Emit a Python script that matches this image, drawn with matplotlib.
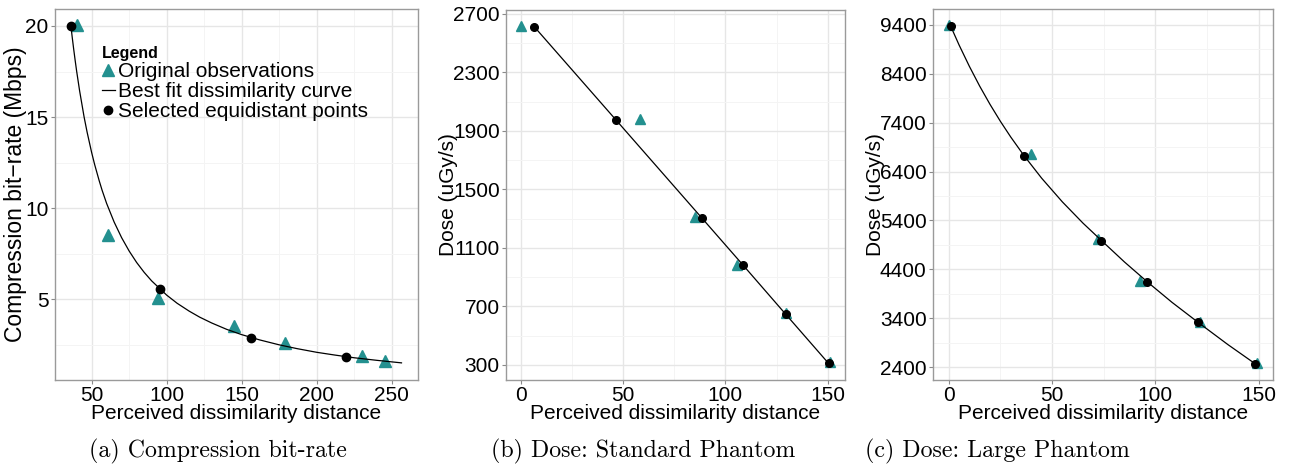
import numpy as np
import matplotlib.pyplot as plt
from matplotlib.ticker import FixedLocator
from matplotlib.lines import Line2D

plt.rcParams['font.family'] = ['Liberation Sans', 'DejaVu Sans']

TEAL = '#23908f'

# (a) compression bit-rate
a_obs_x = [40, 61, 94, 145, 179, 230, 245.5]
a_obs_y = [20.05, 8.55, 5.05, 3.55, 2.6, 1.9, 1.6]
a_sel_x = [36.2, 95.7, 156.4, 219.5]
a_sel_y = [20.0, 5.59, 2.9, 1.85]
a_fit_x = [36.2, 37, 38, 39, 40, 42, 45, 47, 50, 52, 55, 57, 60, 65, 70, 75, 80, 85, 90,
           100, 107, 115, 122, 130, 140, 150, 162, 175, 187, 200, 212, 225, 240, 256.5]
a_fit_y = [20.0, 19.43, 18.76, 18.13, 17.53, 16.44, 15.0, 14.17, 13.06, 12.40, 11.52, 10.98,
           10.26, 9.24, 8.38, 7.65, 7.02, 6.48, 6.01, 5.23, 4.78, 4.35, 4.02, 3.70, 3.35,
           3.06, 2.77, 2.50, 2.29, 2.09, 1.94, 1.79, 1.65, 1.51]
a_xticks = [50, 100, 150, 200, 250]
a_yticks = [5, 10, 15, 20]

# (b) dose, standard phantom
b_obs_x = [0, 58.4, 85.1, 105.5, 129.6, 151.2]
b_obs_y = [2620, 1982, 1310, 984, 654, 317]
b_sel_x = [6.5, 46.5, 88.6, 108.8, 129.6, 150.5]
b_sel_y = [2613, 1975, 1303, 980, 645, 310]
b_fit_x = [6.5, 46.5, 88.6, 108.8, 129.6, 150.5]
b_fit_y = [2613, 1975, 1303, 980, 645, 310]
b_xticks = [0, 50, 100, 150]
b_yticks = [300, 700, 1100, 1500, 1900, 2300, 2700]

# (c) dose, large phantom
c_obs_x = [0, 40, 72.2, 92.4, 121.8, 149.2]
c_obs_y = [9400, 6762, 5017, 4165, 3333, 2494]
c_sel_x = [1, 36.4, 73.9, 96.1, 120.6, 148.4]
c_sel_y = [9366, 6727, 4990, 4145, 3320, 2468]
c_fit_x = [1, 5, 10, 15, 20, 25, 30, 36.4, 45, 55, 65, 73.9, 85, 96.1, 108, 120.6, 135, 148.4]
c_fit_y = [9366, 8987, 8549, 8144, 7771, 7426, 7106, 6727, 6262, 5779, 5344, 4990,
           4553, 4145, 3728, 3320, 2866, 2468]
c_xticks = [0, 50, 100, 150]
c_yticks = [2400, 3400, 4400, 5400, 6400, 7400, 8400, 9400]

W, H = 1289, 468
fig = plt.figure(figsize=(W / 100, H / 100), dpi=100)


def make_axes(left, right, top, bottom):
    return fig.add_axes([left / W, 1 - bottom / H, (right - left) / W, (bottom - top) / H])


def halves(ticks):
    step = ticks[1] - ticks[0]
    return [t - step / 2 for t in ticks] + [ticks[-1] + step / 2]


def style(ax, xlim, ylim, xticks, yticks):
    ax.set_xlim(*xlim)
    ax.set_ylim(*ylim)
    ax.xaxis.set_major_locator(FixedLocator(xticks))
    ax.xaxis.set_minor_locator(FixedLocator(halves(xticks)))
    ax.yaxis.set_major_locator(FixedLocator(yticks))
    ax.yaxis.set_minor_locator(FixedLocator(halves(yticks)))
    ax.grid(which='major', color='#e6e6e6', lw=1.0)
    ax.grid(which='minor', color='#f4f4f4', lw=0.7)
    ax.set_axisbelow(True)
    for s in ax.spines.values():
        s.set_color('#9a9a9a')
        s.set_linewidth(1.0)
    ax.tick_params(which='major', length=3, width=0.8, color='#8a8a8a',
                   labelsize=15, pad=1.5, labelcolor='black')
    ax.tick_params(which='minor', length=0)


def draw(ax, ox, oy, fx, fy, sx, sy, ms_t=8, ms_c=6):
    ax.plot(ox, oy, ls='none', marker='^', ms=ms_t, color=TEAL, mec=TEAL, zorder=3)
    ax.plot(fx, fy, color='black', lw=0.9, zorder=4)
    ax.plot(sx, sy, ls='none', marker='o', ms=ms_c, color='black', zorder=5)


def labels(ax, ylabel, ysize, ylx, xly):
    ax.set_xlabel('Perceived dissimilarity distance', fontsize=15)
    ax.set_ylabel(ylabel, fontsize=ysize)
    ax.xaxis.label.set_verticalalignment('center')
    ax.yaxis.label.set_verticalalignment('center')
    ax.xaxis.set_label_coords(0.5, xly)
    ax.yaxis.set_label_coords(ylx, 0.5)


# panel a
ax1 = make_axes(55, 418, 9, 380)
style(ax1, (25.6, 267.5), (0.57, 20.93), a_xticks, a_yticks)
draw(ax1, a_obs_x, a_obs_y, a_fit_x, a_fit_y, a_sel_x, a_sel_y)
labels(ax1, 'Compression bit\u2212rate (Mbps)', 16.5, -0.11, -0.09)

handles = [Line2D([], [], ls='none', marker='^', ms=8, color=TEAL),
           Line2D([], [], color='black', lw=0.9),
           Line2D([], [], ls='none', marker='o', ms=6, color='black')]
leg = ax1.legend(handles, ['Original observations', 'Best fit dissimilarity curve',
                           'Selected equidistant points'],
                 loc='upper left', bbox_to_anchor=(0.13, 0.90), frameon=False,
                 fontsize=15, title='Legend', title_fontproperties={'weight': 'bold', 'size': 11.5},
                 alignment='left', handlelength=0.6, handletextpad=0.15,
                 labelspacing=0.05, borderpad=0, borderaxespad=0)

# panel b
ax2 = make_axes(506, 845, 10, 380)
style(ax2, (-7.3, 158.5), (197, 2727), b_xticks, b_yticks)
draw(ax2, b_obs_x, b_obs_y, b_fit_x, b_fit_y, b_sel_x, b_sel_y, ms_t=7.5, ms_c=5.5)
labels(ax2, 'Dose (uGy/s)', 15, -0.17, -0.09)

# panel c
ax3 = make_axes(933, 1273, 9, 380)
style(ax3, (-7.6, 156.9), (2140, 9721), c_xticks, c_yticks)
draw(ax3, c_obs_x, c_obs_y, c_fit_x, c_fit_y, c_sel_x, c_sel_y, ms_t=7.5, ms_c=5.5)
labels(ax3, 'Dose (uGy/s)', 15, -0.17, -0.09)

captions = ['(a) Compression bit-rate', '(b) Dose: Standard Phantom', '(c) Dose: Large Phantom']
cap_x = [218, 643, 997]
for t, x in zip(captions, cap_x):
    fig.text(x / W, 1 - 457 / H, t, family='cmr10', fontsize=17.2, ha='center', va='baseline')

fig.savefig('out.png', dpi=100)
